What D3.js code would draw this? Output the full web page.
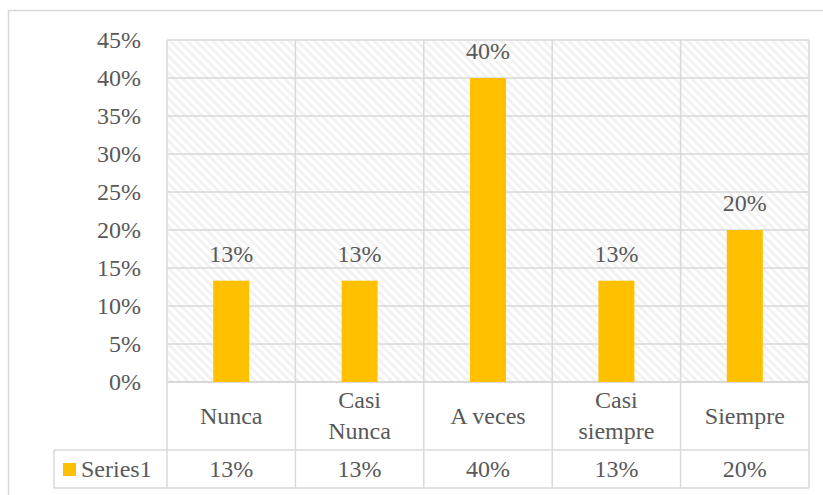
<!DOCTYPE html>
<html><head><meta charset="utf-8">
<script src="https://cdn.jsdelivr.net/npm/d3@7"></script>
<style>body{margin:0;background:#fff}svg{display:block}</style>
</head><body>
<script>
const categories = ["Nunca", "Casi Nunca", "A veces", "Casi siempre", "Siempre"];
const categoryLines = [["Nunca"], ["Casi", "Nunca"], ["A veces"], ["Casi", "siempre"], ["Siempre"]];
const seriesName = "Series1";
const values = [0.1333, 0.1333, 0.40, 0.1333, 0.20];
const yTicks = [0, 0.05, 0.10, 0.15, 0.20, 0.25, 0.30, 0.35, 0.40, 0.45];

const W = 823, H = 495;
const FONT = "Liberation Serif";
const svg = d3.select("body").append("svg").attr("width", W).attr("height", H);
const grid = "#d9d9d9", barColor = "#ffc000", txt = "#595959";
const pl = 167, pr = 809, pt = 40, pb = 382;
const rowMid = 450, rowBot = 488, legL = 54;

const defs = svg.append("defs");
const pat = defs.append("pattern").attr("id", "hatch").attr("patternUnits", "userSpaceOnUse")
  .attr("width", 6).attr("height", 6).attr("patternTransform", "rotate(-45)");
pat.append("rect").attr("width", 6).attr("height", 6).attr("fill", "#ffffff");
pat.append("rect").attr("width", 3).attr("height", 6).attr("fill", "#f2f2f2");

svg.append("rect").attr("x", 8.5).attr("y", 10.5).attr("width", 830).attr("height", 500)
  .attr("fill", "none").attr("stroke", grid).attr("stroke-width", 1.5);

const x = d3.scaleBand().domain(categories).range([pl, pr]).paddingInner(0).paddingOuter(0);
const y = d3.scaleLinear().domain([0, 0.45]).range([pb, pt]);

svg.append("rect").attr("x", pl).attr("y", pt).attr("width", pr - pl).attr("height", pb - pt).attr("fill", "url(#hatch)");

svg.append("g").selectAll("line").data(yTicks).join("line")
  .attr("x1", pl).attr("x2", pr).attr("y1", d => y(d)).attr("y2", d => y(d))
  .attr("stroke", grid).attr("stroke-width", 1.5);

const seps = categories.map(c => x(c)).concat([pr]);
svg.append("g").selectAll("line").data(seps).join("line")
  .attr("x1", d => d).attr("x2", d => d).attr("y1", pt).attr("y2", rowBot)
  .attr("stroke", grid).attr("stroke-width", 1.5);

svg.append("line").attr("x1", pl).attr("x2", pr).attr("y1", pb).attr("y2", pb).attr("stroke", grid).attr("stroke-width", 2);
svg.append("line").attr("x1", legL).attr("x2", pr).attr("y1", rowMid).attr("y2", rowMid).attr("stroke", grid).attr("stroke-width", 1.5);
svg.append("line").attr("x1", legL).attr("x2", pr).attr("y1", rowBot).attr("y2", rowBot).attr("stroke", grid).attr("stroke-width", 1.5);
svg.append("line").attr("x1", legL).attr("x2", legL).attr("y1", rowMid).attr("y2", rowBot).attr("stroke", grid).attr("stroke-width", 1.5);

const bw = 36;
svg.append("g").selectAll("rect").data(values).join("rect")
  .attr("x", (d, i) => x(categories[i]) + x.bandwidth() / 2 - bw / 2)
  .attr("width", bw)
  .attr("y", d => y(d)).attr("height", d => pb - y(d))
  .attr("fill", barColor);

const fmt = d3.format(".0%");
function T(sel) { return sel.attr("fill", txt).attr("font-size", 24).style("font-family", FONT); }
T(svg.append("g").selectAll("text").data(values).join("text")
  .attr("x", (d, i) => x(categories[i]) + x.bandwidth() / 2)
  .attr("y", d => y(d) - 19)
  .attr("text-anchor", "middle").text(d => fmt(d)));

T(svg.append("g").selectAll("text").data(yTicks).join("text")
  .attr("x", 141).attr("y", d => y(d)).attr("dy", "0.33em")
  .attr("text-anchor", "end").text(d => fmt(d)));

categoryLines.forEach((lines, i) => {
  const cx = x(categories[i]) + x.bandwidth() / 2;
  const lh = 31, cy = (pb + rowMid) / 2;
  lines.forEach((ln, j) => {
    T(svg.append("text").attr("x", cx).attr("y", cy + (j - (lines.length - 1) / 2) * lh)
      .attr("dy", "0.33em").attr("text-anchor", "middle").text(ln));
  });
});

T(svg.append("g").selectAll("text").data(values).join("text")
  .attr("x", (d, i) => x(categories[i]) + x.bandwidth() / 2)
  .attr("y", (rowMid + rowBot) / 2).attr("dy", "0.33em")
  .attr("text-anchor", "middle").text(d => fmt(d)));

svg.append("rect").attr("x", 63).attr("y", 463).attr("width", 13).attr("height", 13).attr("fill", barColor);
T(svg.append("text").attr("x", 81).attr("y", (rowMid + rowBot) / 2).attr("dy", "0.33em").text(seriesName));
</script>
</body></html>
